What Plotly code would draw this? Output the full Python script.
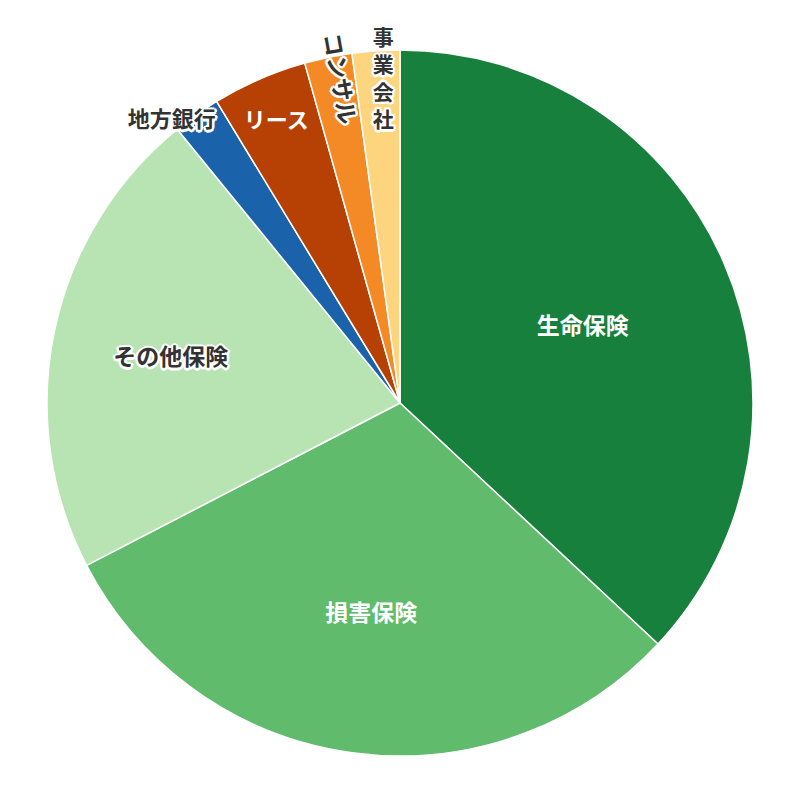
import plotly.graph_objects as go

# 件数（業種別）
labels = ['生命保険', '損害保険', 'その他保険', '地方銀行', 'リース', 'コンサル', '事業会社']
counts = [17, 14, 10, 1, 2, 1, 1]
colors = ['#18803d', '#60bb6d', '#b8e3b3', '#1a63aa', '#b74105', '#f48a25', '#fdd57f']

# ラベルの出し方：扇形ごとに透明なレイヤーへ振り分ける
base_text = ['', '', '', '', 'リース', '', '']
wide_text = ['生命保険', '損害保険', 'その他保険', '', '', '', '']
consul_text = ['', '', '', '', '', 'コンサル', '']
bank_text = ['', '', '', '地方銀行', '', '', '']
corp_text = ['', '', '', '', '', '', '事<br>業<br>会<br>社']

W = H = 786
cx, cy = 392, 395          # 円の中心（px, 上から）

def dom(r, x0=cx, y0=cy):
    return dict(x=[(x0 - r) / W, (x0 + r) / W],
                y=[(H - y0 - r) / H, (H - y0 + r) / H])

dark = '#333333'
halo = ('2.5px 0 0 #fff, -2.5px 0 0 #fff, 0 2.5px 0 #fff, 0 -2.5px 0 #fff, '
        '1.8px 1.8px 0 #fff, -1.8px -1.8px 0 #fff, 1.8px -1.8px 0 #fff, -1.8px 1.8px 0 #fff')
wide_colors = ['white', 'white', dark, dark, 'white', dark, dark]
wide_shadow = ['none', 'none', halo, halo, 'none', halo, halo]
clear = ['rgba(0,0,0,0)'] * len(labels)

common = dict(labels=labels, values=counts, sort=False, direction='clockwise',
              textinfo='text', showlegend=False)
ghost = dict(colors=clear, line=dict(width=0))
jp = 'Noto Sans CJK JP'

fig = go.Figure()

# 本体の円
fig.add_trace(go.Pie(
    **common,
    text=base_text,
    textposition='inside',
    insidetextorientation='horizontal',
    domain=dom(353),
    marker=dict(colors=colors, line=dict(color='white', width=1.5)),
    insidetextfont=dict(family=jp, size=22, color='white', weight='bold'),
    hoverinfo='label+value+percent',
))

fig.add_trace(go.Pie(
    **common,
    text=wide_text,
    textposition='inside',
    insidetextorientation='horizontal',
    domain=dom(382),
    marker=ghost,
    insidetextfont=dict(family=jp, size=23, color=wide_colors,
                        weight='bold', shadow=wide_shadow),
    hoverinfo='skip',
))

fig.add_trace(go.Pie(
    **common,
    text=consul_text,
    textposition='inside',
    insidetextorientation='radial',
    rotation=1.5,
    domain=dom(382),
    marker=ghost,
    insidetextfont=dict(family=jp, size=23, color=dark, weight='bold', shadow=halo),
    hoverinfo='skip',
))

fig.add_trace(go.Pie(
    **common,
    text=bank_text,
    textposition='outside',
    rotation=2.5,
    domain=dom(326),
    marker=ghost,
    outsidetextfont=dict(family=jp, size=22, color=dark, weight='bold', shadow=halo),
    hoverinfo='skip',
))

fig.add_trace(go.Pie(
    **common,
    text=corp_text,
    textposition='outside',
    rotation=3,
    domain=dom(270, x0=cx + 26),
    marker=ghost,
    outsidetextfont=dict(family=jp, size=21, color=dark, weight='bold', shadow=halo),
    hoverinfo='skip',
))

fig.update_layout(
    width=W, height=H,
    showlegend=False,
    paper_bgcolor='white',
    margin=dict(l=0, r=0, t=0, b=0),
    font=dict(family=jp),
)

fig.write_html("out.html")
